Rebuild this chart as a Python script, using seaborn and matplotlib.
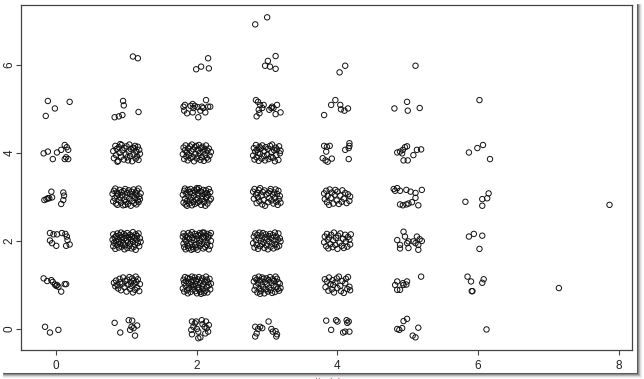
import matplotlib
matplotlib.use("Agg")
import matplotlib.pyplot as plt
from matplotlib.lines import Line2D
import seaborn as sns
import pandas as pd

# ---- data: integer cells (x, y) and jitter offsets (hundredths) ----
cell_x = [0, 0, 0, 0, 0, 0,
          1, 1, 1, 1, 1, 1, 1,
          2, 2, 2, 2, 2, 2, 2,
          3, 3, 3, 3, 3, 3, 3, 3,
          4, 4, 4, 4, 4, 4, 4,
          5, 5, 5, 5, 5, 5, 5,
          6, 6, 6, 6, 6, 6,
          7, 8]
cell_y = [0, 1, 2, 3, 4, 5,
          0, 1, 2, 3, 4, 5, 6,
          0, 1, 2, 3, 4, 5, 6,
          0, 1, 2, 3, 4, 5, 6, 7,
          0, 1, 2, 3, 4, 5, 6,
          0, 1, 2, 3, 4, 5, 6,
          0, 1, 2, 3, 4, 5,
          1, 3]

off_x = [
    # x = 0
    [-16, -9, 3],
    [-18, -13, -7, -5, -2, 0, 3, 7, 12, 14, 1],
    [-9, -4, 1, 8, 13, 15, -9, -6, 0, 14, 19, 16],
    [-17, -14, -12, -10, -7, -6, 10, 11, 10, 7],
    [-18, -12, -5, 1, 7, 12, 15, 17, 12, 14, 17],
    [-12, -2, 19, -15],
    # x = 1
    [-17, -9, 3, 8, 7, 10, 15, 12, 5],
    [-18, -16, -15, -13, -12, -10, -9, -8, -6, -5, -3, -2, 0, 1, 2, 4, 5, 6, 7, 8, 9, 10, 11, 12, 13, 14, 15, 16, 18, 19],
    [-20, -19, -19, -18, -17, -16, -15, -15, -14, -13, -12, -11, -11, -10, -9, -8, -7, -7, -6, -5, -4, -3, -3, -2, -1, 0, 1, 1, 2, 3, 4, 5, 5, 6, 7, 8, 9, 9, 10, 11, 12, 13, 13, 14, 15, 16, 17, 18, 19, 20],
    [-20, -19, -18, -17, -16, -15, -14, -14, -13, -12, -11, -10, -9, -8, -7, -6, -5, -4, -3, -2, -1, 0, 1, 2, 3, 4, 5, 6, 7, 8, 9, 10, 11, 12, 13, 14, 14, 15, 16, 17, 17, 18, 19, 20, -2],
    [-19, -18, -16, -15, -14, -12, -11, -10, -8, -7, -6, -4, -3, -1, 0, 1, 3, 4, 5, 6, 8, 9, 10, 12, 13, 14, 15, 16, 17, 18, 19, -13, -9, 2, 11],
    [-5, -4, -17, -11, -6, 17],
    [9, 16],
    # x = 2
    [-7, -3, -1, -5, -8, -7, 0, 2, 7, 8, 11, 13, 14, 17, 12, 5, 2, 16],
    [-20, -19, -18, -18, -17, -16, -15, -14, -13, -13, -12, -11, -10, -9, -8, -8, -7, -6, -5, -4, -3, -2, -2, -1, 0, 1, 2, 3, 3, 4, 5, 6, 7, 8, 8, 9, 10, 11, 12, 13, 14, 14, 15, 16, 17, 18, 19, 20, -6, 6],
    [-20, -19, -19, -18, -17, -16, -16, -15, -14, -13, -12, -12, -11, -10, -9, -8, -7, -6, -6, -5, -4, -3, -2, -1, -1, 0, 1, 2, 3, 4, 4, 5, 6, 7, 8, 9, 10, 10, 11, 12, 13, 14, 15, 15, 16, 17, 18, 19, 20, 20, -8, 8],
    [-20, -19, -18, -17, -17, -16, -15, -14, -13, -12, -11, -10, -10, -9, -8, -7, -6, -5, -4, -4, -3, -2, -1, 0, 1, 1, 2, 3, 4, 5, 6, 7, 7, 8, 9, 10, 11, 12, 13, 13, 14, 15, 16, 17, 18, 19, 20, -14, 0, 14],
    [-20, -19, -18, -17, -16, -15, -14, -13, -12, -11, -10, -9, -8, -7, -6, -5, -4, -3, -2, -1, 0, 1, 2, 3, 4, 5, 6, 7, 8, 9, 10, 11, 12, 13, 14, 15, 16, 17, 18, 20],
    [-19, -17, -18, -14, -9, -6, -5, 1, 5, 9, 13, 16, 19, 12, 2, -6, -3, 7],
    [-1, 6, 16, 17],
    # x = 3
    [-17, -13, -15, -17, -10, -7, 2, 6, 8, 12, 13, 14],
    [-19, -18, -17, -16, -15, -14, -13, -12, -11, -10, -9, -8, -7, -6, -5, -4, -3, -2, -1, 0, 1, 2, 3, 4, 5, 6, 7, 8, 9, 10, 11, 12, 13, 14, 15, 16, 17, 18, 19, -10],
    [-20, -19, -18, -17, -16, -15, -14, -13, -12, -11, -10, -9, -8, -7, -6, -5, -4, -3, -2, -1, 0, 1, 2, 3, 4, 5, 6, 7, 8, 9, 10, 11, 12, 13, 14, 15, 16, 17, 18, 19],
    [-20, -19, -18, -16, -15, -14, -13, -12, -11, -10, -8, -7, -6, -5, -4, -3, -1, 1, 2, 3, 4, 5, 6, 8, 9, 10, 11, 12, 13, 14, 15, 16, 17, 18, 19],
    [-20, -19, -18, -17, -16, -15, -14, -12, -11, -10, -9, -8, -7, -5, -4, -3, -2, 0, 1, 2, 4, 5, 6, 7, 8, 10, 11, 12, 13, 14, 16, 17, 18, 19, -13],
    [-16, -13, -10, -7, -12, -11, -15, -5, 7, 9, 14, 19, 12, 6, 3],
    [12, 1, -3, 4, 12],
    [-17, 0],
    # x = 4
    [-16, -9, -2, 0, 13, 14, 16, 8, 11, 17],
    [-18, -17, -15, -13, -12, -10, -8, -7, -5, -3, -1, 0, 2, 4, 5, 7, 9, 11, 12, 14, 15, 17, 18, -6],
    [-19, -18, -16, -15, -14, -13, -12, -10, -9, -7, -6, -5, -3, -2, 0, 1, 3, 4, 6, 8, 9, 11, 12, 14, 15, 17, 18, 19],
    [-19, -18, -16, -15, -14, -12, -11, -9, -8, -6, -4, -3, -1, 0, 2, 4, 6, 7, 9, 11, 13, 15, 17, 18],
    [-19, -15, -11, -16, -21, -17, -14, -8, 11, 16, 17, 17, 16],
    [-19, -9, -3, 4, 5, 10, 15],
    [3, 11],
    # x = 5
    [-15, -12, -8, -6, -1, 15, 7, 11],
    [-15, -18, -11, -7, -2, -1, -6, -15, 19],
    [-15, -6, -4, -11, -1, 1, 8, 13, 17, 15, 11, 20, 15, -11, 1],
    [-20, -18, -15, -11, -2, 4, 11, 20, -11, -7, -2, 1, 6, 15, 11],
    [-15, -11, -7, -4, -8, -1, 8, 13, 19, -6, 0],
    [-19, -1, 0, 17],
    [11],
    # x = 6
    [12],
    [-15, -10, 6, 8, -9, -8],
    [-13, -6, 6, 2],
    [-18, 6, 13, 15, 6],
    [-13, -1, 7, 17],
    [2],
    # x = 7, 8
    [15],
    [-13],
]

off_y = [
    # x = 0
    [5, -8, -2],
    [15, 9, 11, 7, 1, -2, -4, -15, 2, 2, 0],
    [18, 15, 15, 18, 16, 10, 1, -5, -11, -11, -8, 2],
    [-7, -5, -3, -3, 12, -1, 10, 3, -7, -16],
    [-1, 3, -14, 1, 7, 18, 13, 7, -14, -10, -14],
    [18, 1, 16, -16],
    # x = 1
    [14, -8, 20, 19, 5, 2, 8, -15, -2],
    [5, -3, 10, 0, -8, 14, 6, -12, 3, 17, -5, 9, -15, 12, 1, 18, -9, 6, -2, 15, -17, 10, 3, -11, 19, 7, -6, 13, -14, 2],
    [3, -12, 15, -4, 8, -18, 11, 0, -9, 17, 5, -15, -2, 13, -7, 19, 2, -13, 9, -5, 16, -19, 6, -10, 12, 1, -16, 18, -3, 8, -11, 14, -6, 4, -17, 10, -1, 20, -14, 7, -8, 15, -20, 3, 11, -5, 17, -12, 6, -2],
    [7, -10, 14, -3, 19, -15, 2, 10, -18, 6, -7, 16, -1, -13, 11, 4, -19, 13, -6, 18, -11, 0, 9, -16, 15, -4, 7, -20, 12, -9, 3, 17, -14, -2, 10, -17, 5, 14, -8, 19, -12, 1, -5, 8, -18],
    [4, -12, 16, -5, 9, -18, 13, 0, -9, 18, 6, -15, 11, -3, 15, -10, 3, 19, -7, 9, -19, 12, -4, 16, -13, 2, -8, 14, -16, 7, -2, -20, 20, -17, 10],
    [18, 8, -19, -17, -14, -7],
    [19, 15],
    # x = 2
    [17, 13, 17, 5, -2, -12, 0, -6, 20, 11, 5, 17, 2, 9, -10, -19, -21, -6],
    [-8, 12, -15, 5, 18, -2, 9, -12, 16, -19, 3, -7, 14, -16, 7, -1, 19, -10, 11, -4, 17, -14, 2, 9, -19, 13, -6, 18, -11, 4, -16, 10, -3, 15, -9, 1, -18, 8, -13, 19, -5, 12, -17, 6, -1, 14, -10, 3, 0, -20],
    [10, -6, 17, -14, 3, -19, 12, -1, 8, -11, 18, -16, 5, -8, 14, -3, 20, -13, 7, -18, 2, 16, -9, 11, -15, 4, -20, 13, -5, 18, -12, 1, 15, -7, 9, -17, 6, 19, -2, -14, 11, -9, 16, -4, 8, -19, 13, -11, 0, 18, -20, 19],
    [5, -13, 14, -4, 19, -17, 8, -9, 16, 1, -15, 11, -6, 18, -1, -19, 9, -11, 15, 3, -16, 12, -7, 17, -3, -13, 6, 20, -10, 13, -18, 2, 10, -5, 16, -12, 7, -20, 15, -2, 9, -15, 4, 18, -8, 11, -4, -20, 20, 0],
    [-3, 12, -14, 6, 17, -8, 1, -17, 10, -5, 15, -12, 4, 19, -9, 8, -19, 13, -2, 16, -13, 7, -7, 18, 0, -16, 11, -10, 14, 3, -18, 9, -4, 17, -11, 5, -15, 10, -6, 2],
    [5, 9, -4, -10, 7, 11, 2, 4, -4, 2, 20, 5, 5, -8, -19, -8, 7, 5],
    [-10, -4, 15, -8],
    # x = 3
    [5, 0, -10, -17, 5, 2, 17, 0, -6, -5, -17, -12],
    [8, -11, 16, -3, 12, -17, 4, 19, -8, 10, -14, 1, 17, -5, 14, -19, 7, -10, 15, 2, -15, 11, -6, 18, -12, 5, -18, 13, -1, 9, -16, 19, -4, 14, -9, 6, -13, 3, -7, -20],
    [-5, 10, -15, 17, 2, -9, 14, -18, 6, 19, -12, 0, 12, -7, 18, -3, -16, 8, 15, -10, 4, -19, 11, -2, 16, -13, 7, -6, 13, -17, 1, 19, -8, 10, -14, 3, 17, -11, 6, -1],
    [12, -4, 18, 5, -14, 9, -1, 16, -10, 20, 3, -17, 11, -7, 15, -20, 6, -12, 9, -3, 13, 18, -8, 5, -15, 10, -2, 17, -11, 7, -18, 14, -5, 2, -13],
    [-6, 11, -15, 3, 18, -10, 7, -18, 14, -2, 10, -13, 17, -7, 4, -17, 13, -4, 9, -14, 16, -9, 2, 19, -11, 6, -19, 12, -5, 8, -16, 15, -1, 5, 0],
    [20, 16, 9, 2, -2, -10, -17, 9, 5, 2, 9, -8, -12, 2, -2],
    [20, 9, -2, -4, -9],
    [-8, 8],
    # x = 4
    [19, -2, 20, 17, 20, 14, 17, -8, -6, -6],
    [13, -5, 8, -13, 17, 2, -10, 11, -17, 6, 15, -7, 19, -2, -14, 9, -18, 4, 14, -9, 18, -4, -12, 0],
    [-3, 10, -12, 16, 3, -17, 8, -7, 14, -14, 1, 19, -9, 7, -18, 12, -4, 17, -11, 5, -16, 14, -1, -13, 9, 3, -8, 15],
    [8, -5, 14, -12, 2, -18, 17, -2, 10, -15, 5, 16, -8, 12, -16, 3, -11, 15, -4, 9, -14, 6, -9, 1],
    [16, 14, 16, 3, -12, -17, -20, -13, 7, 11, 22, 16, -14],
    [-14, 9, 20, 9, -1, -4, 1],
    [-17, -2],
    # x = 5
    [0, -2, 2, 18, 23, 3, -15, -19],
    [8, 0, -11, 4, 1, 8, 0, -11, 19],
    [2, 21, 10, -9, -5, -1, -1, 10, 4, -9, -5, 0, -20, -17, -16],
    [18, 14, 20, 14, 16, 12, 9, 16, -17, -19, -17, -15, -12, -19, -2],
    [1, 3, 7, 13, -1, 15, -5, 7, 8, -17, -17],
    [1, 16, -4, 2],
    [-2],
    # x = 6
    [-1],
    [19, 8, 5, 13, -14, -14],
    [10, 16, 12, -18],
    [-11, -5, -3, 8, -20],
    [1, 11, 18, -14],
    [20],
    # x = 7, 8
    [-7],
    [-18],
]

x_ticks = [0, 2, 4, 6, 8]
y_ticks = [0, 2, 4, 6]

jitter_x, jitter_y = [], []
for cx, cy, ox, oy in zip(cell_x, cell_y, off_x, off_y):
    for dx, dy in zip(ox, oy):
        jitter_x.append(cx + dx / 100.0)
        jitter_y.append(cy + dy / 100.0)
df = pd.DataFrame({"jitter(x)": jitter_x, "jitter(y)": jitter_y})

# ---- figure ----
sns.set_style("white")
plt.rcParams["font.family"] = ["Liberation Sans", "DejaVu Sans"]
W, H = 644, 379
fig = plt.figure(figsize=(W / 100, H / 100), dpi=100)
fig.patch.set_facecolor("white")
ax = fig.add_axes([21 / W, 1 - 350 / H, (632 - 21) / W, (350 - 5) / H])

sns.scatterplot(data=df, x="jitter(x)", y="jitter(y)", ax=ax,
                marker="o", s=15, facecolor="none", edgecolor="#111111",
                linewidth=0.7, legend=False)

ax.set_xlim(-0.502, 8.19)
ax.set_ylim(-0.477, 7.36)
ax.set_xticks(x_ticks)
ax.set_yticks(y_ticks)
for sp in ax.spines.values():
    sp.set_visible(True)
    sp.set_color("#444444")
    sp.set_linewidth(0.9)
ax.tick_params(axis="both", which="both", direction="out", length=3.5,
               width=0.8, color="#444444", labelsize=8.5, labelcolor="#222222")
ax.tick_params(axis="x", pad=3.5, bottom=True)
ax.tick_params(axis="y", pad=0.5, left=True)
for lbl in ax.get_yticklabels():
    lbl.set_rotation(90)
    lbl.set_va("center")
ax.set_xlabel("jitter(x)", fontsize=7, color="#7a5050", labelpad=4)
ax.set_ylabel("jitter(y)", fontsize=7, color="#555555", labelpad=12)

# screenshot drop shadow (right and bottom edges)
shade = ["#5a5a5a", "#8a8a8a", "#b5b5b5", "#dadada", "#efefef"]
for i, c in enumerate(shade):
    fig.add_artist(Line2D([(637 + i) / W, (637 + i) / W], [1 - 4 / H, 1 - (373 + i) / H],
                          transform=fig.transFigure, color=c, lw=0.75))
    fig.add_artist(Line2D([3 / W, (637 + i) / W], [1 - (373 + i) / H, 1 - (373 + i) / H],
                          transform=fig.transFigure, color=c, lw=0.75))

fig.savefig("out.png", dpi=100, facecolor="white")
